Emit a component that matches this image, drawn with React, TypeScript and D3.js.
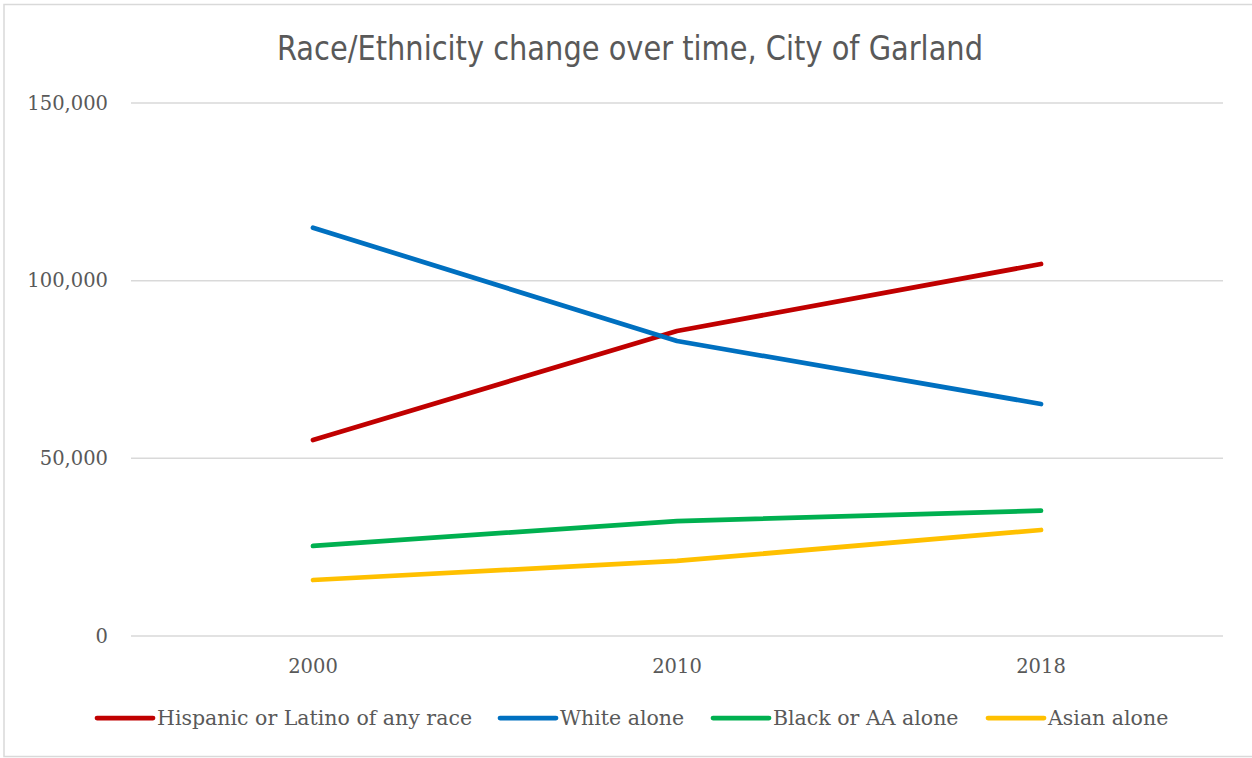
import React from "react";
import * as d3 from "d3";

const categories = ["2000", "2010", "2018"];
const hispanic = [55160, 85840, 104690];
const white = [114910, 83020, 65290];
const black = [25330, 32360, 35260];
const asian = [15760, 21110, 29830];
const seriesNames = ["Hispanic or Latino of any race", "White alone", "Black or AA alone", "Asian alone"];
const seriesColors = ["#C00000", "#0070C0", "#00B050", "#FFC000"];
const yTicks = [0, 50000, 100000, 150000];
const title = "Race/Ethnicity change over time, City of Garland";

const W = 1252;
const H = 758;

export default function App() {
  const series = [hispanic, white, black, asian];
  const x = d3.scaleBand<string>().domain(categories).range([131, 1223]);
  const y = d3.scaleLinear().domain([0, 150000]).range([636, 103]);
  const line = d3
    .line<number>()
    .x((_, i) => (x(categories[i]) as number) + x.bandwidth() / 2)
    .y((d) => y(d));
  const fmt = d3.format(",");
  const legendX = [97, 500, 713, 988];
  const serif = "'DejaVu Serif', serif";
  return (
    <svg
      width={W}
      height={H}
      style={{ position: "absolute", left: 0, top: 0, background: "#fff" }}
    >
      <rect x={4} y={4.5} width={W + 10} height={752} fill="#fff" stroke="#D9D9D9" strokeWidth={1.5} />
      <text
        x={277}
        y={60}
        fontFamily="'DejaVu Sans Condensed', 'DejaVu Sans', sans-serif"
        fontSize={33}
        fill="#595959"
        textLength={706}
        lengthAdjust="spacingAndGlyphs"
      >
        {title}
      </text>
      {yTicks.map((t) => (
        <g key={t}>
          <line x1={131} x2={1223} y1={y(t)} y2={y(t)} stroke="#D9D9D9" strokeWidth={1.5} />
          <text
            x={108}
            y={y(t)}
            dy="0.35em"
            textAnchor="end"
            fontFamily={serif}
            fontSize={19.5}
            fill="#595959"
          >
            {fmt(t)}
          </text>
        </g>
      ))}
      {categories.map((c) => (
        <text
          key={c}
          x={(x(c) as number) + x.bandwidth() / 2}
          y={666}
          dy="0.35em"
          textAnchor="middle"
          fontFamily={serif}
          fontSize={19.5}
          fill="#595959"
        >
          {c}
        </text>
      ))}
      {series.map((s, i) => (
        <path
          key={i}
          d={line(s) || ""}
          fill="none"
          stroke={seriesColors[i]}
          strokeWidth={4.75}
          strokeLinecap="round"
          strokeLinejoin="round"
        />
      ))}
      {seriesNames.map((n, i) => (
        <g key={n}>
          <line
            x1={legendX[i]}
            x2={legendX[i] + 56}
            y1={718}
            y2={718}
            stroke={seriesColors[i]}
            strokeWidth={4.75}
            strokeLinecap="round"
          />
          <text
            x={legendX[i] + 60}
            y={718}
            dy="0.35em"
            fontFamily={serif}
            fontSize={20.5}
            fill="#595959"
          >
            {n}
          </text>
        </g>
      ))}
    </svg>
  );
}
